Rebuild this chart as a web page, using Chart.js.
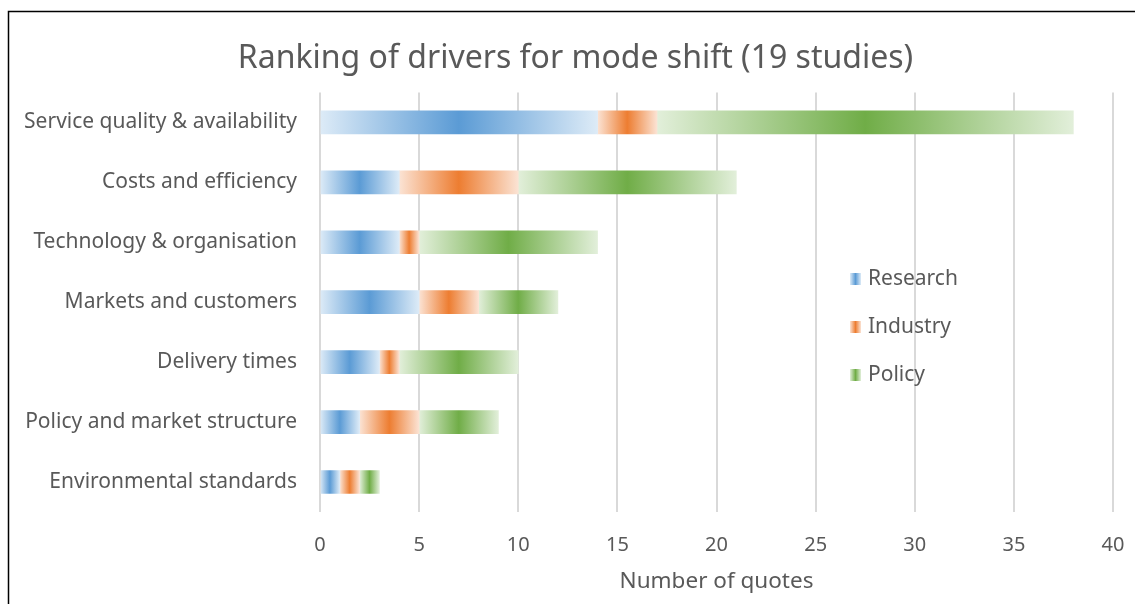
<!DOCTYPE html>
<html>
<head>
<meta charset="utf-8">
<script src="https://cdn.jsdelivr.net/npm/chart.js@4/dist/chart.umd.min.js"></script>
<style>
  html, body { margin: 0; padding: 0; background: #ffffff; }
  #wrap { position: relative; width: 1135px; height: 604px; }
</style>
</head>
<body>
<div id="wrap"><canvas id="c" width="1135" height="604"></canvas></div>
<script>
const categories = [
  'Service quality & availability',
  'Costs and efficiency',
  'Technology & organisation',
  'Markets and customers',
  'Delivery times',
  'Policy and market structure',
  'Environmental standards'
];
const research = [14, 4, 4, 5, 3, 2, 1];
const industry = [3, 6, 1, 3, 1, 3, 1];
const policy   = [21, 11, 9, 4, 6, 4, 1];
const seriesNames = ['Research', 'Industry', 'Policy'];
const xTicks = [0, 5, 10, 15, 20, 25, 30, 35, 40];

const FONT = "'Noto Sans', 'Open Sans', sans-serif";
const TEXT = '#595959';
const palette = [
  { dark: '#5b9bd5', light: '#ddebf7' },
  { dark: '#ed7d31', light: '#fbe3d4' },
  { dark: '#70ad47', light: '#e2efda' }
];
const seriesData = [research, industry, policy];

function gradientFor(ctx, x0, x1, pal) {
  const g = ctx.createLinearGradient(x0, 0, x1, 0);
  g.addColorStop(0, pal.light);
  g.addColorStop(0.5, pal.dark);
  g.addColorStop(1, pal.light);
  return g;
}

function barFill(context) {
  const pal = palette[context.datasetIndex];
  const chart = context.chart;
  const xs = chart.scales && chart.scales.x;
  if (context.type !== 'data' || !xs || !chart.chartArea) return pal.dark;
  const i = context.dataIndex;
  let start = 0;
  for (let d = 0; d < context.datasetIndex; d++) start += seriesData[d][i];
  const end = start + seriesData[context.datasetIndex][i];
  const x0 = xs.getPixelForValue(start);
  const x1 = xs.getPixelForValue(end);
  if (!isFinite(x0) || !isFinite(x1) || x1 === x0) return pal.dark;
  return gradientFor(chart.ctx, x0, x1, pal);
}

const framePlugin = {
  id: 'frame',
  afterDraw(chart) {
    const ctx = chart.ctx;
    ctx.save();
    ctx.strokeStyle = '#000000';
    ctx.lineWidth = 1.5;
    ctx.beginPath();
    ctx.moveTo(8.5, 604);
    ctx.lineTo(8.5, 11.5);
    ctx.lineTo(1135, 11.5);
    ctx.stroke();
    ctx.restore();
  }
};

const legendPlugin = {
  id: 'customLegend',
  afterDraw(chart) {
    const ctx = chart.ctx;
    ctx.save();
    chart.data.datasets.forEach((ds, k) => {
      const pal = palette[k];
      const y = 279 + k * 48;
      const bx = 850, bw = 11, bh = 12;
      ctx.fillStyle = gradientFor(ctx, bx, bx + bw, pal);
      ctx.fillRect(bx, y - bh / 2, bw, bh);
      ctx.fillStyle = TEXT;
      ctx.font = '21px ' + FONT;
      ctx.textAlign = 'left';
      ctx.textBaseline = 'middle';
      ctx.fillText(ds.label, 868, y);
    });
    ctx.restore();
  }
};

new Chart(document.getElementById('c'), {
  type: 'bar',
  data: {
    labels: categories,
    datasets: seriesData.map((arr, k) => ({
      label: seriesNames[k],
      data: arr,
      backgroundColor: barFill,
      borderWidth: 0,
      barThickness: 23
    }))
  },
  options: {
    indexAxis: 'y',
    responsive: false,
    animation: false,
    devicePixelRatio: 1,
    layout: { padding: { left: 16, right: 0, top: 0, bottom: 0 } },
    plugins: {
      legend: { display: false },
      tooltip: { enabled: false },
      title: {
        display: true,
        text: 'Ranking of drivers for mode shift (19 studies)',
        color: TEXT,
        font: { family: FONT, size: 32, weight: 'normal' },
        padding: { top: 40, bottom: 14 }
      }
    },
    scales: {
      x: {
        stacked: true,
        min: 0,
        max: 40,
        afterBuildTicks(scale) { scale.ticks = xTicks.map(v => ({ value: v })); },
        afterFit(scale) { scale.height = 92; scale.paddingLeft = 0; scale.paddingRight = 22; },
        grid: { display: true, color: '#d9d9d9', lineWidth: 2, drawTicks: false },
        border: { display: false },
        ticks: { color: TEXT, font: { family: FONT, size: 20 }, padding: 21 },
        title: {
          display: true,
          text: 'Number of quotes',
          color: TEXT,
          font: { family: FONT, size: 22.5 },
          padding: { top: 0, bottom: 9 }
        }
      },
      y: {
        stacked: true,
        afterFit(scale) { scale.width = 304; scale.paddingTop = 0; scale.paddingBottom = 0; },
        grid: { display: false, drawTicks: false },
        border: { display: false },
        ticks: { color: TEXT, font: { family: FONT, size: 21 }, padding: 23 }
      }
    }
  },
  plugins: [framePlugin, legendPlugin]
});
</script>
</body>
</html>
